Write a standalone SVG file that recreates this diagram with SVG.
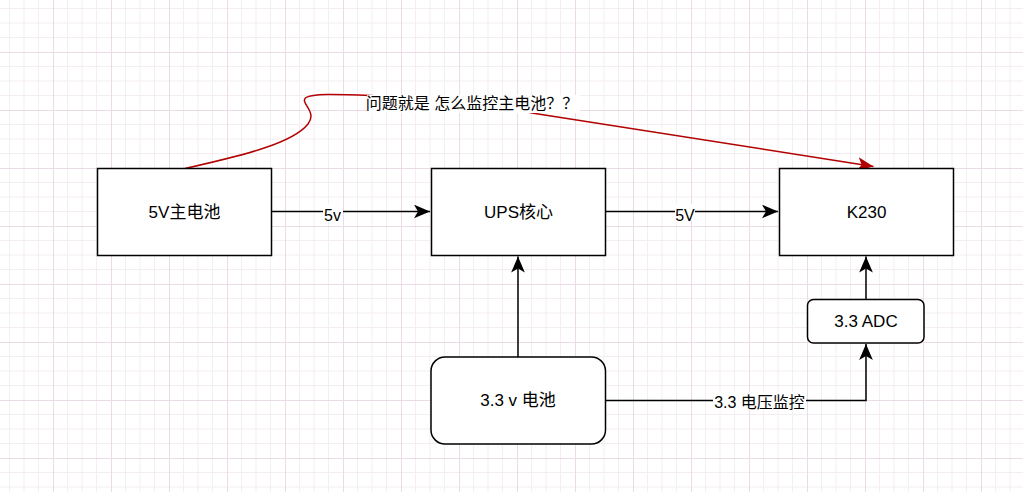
<svg xmlns="http://www.w3.org/2000/svg" width="1023" height="492" viewBox="0 0 1023 492">
  <style>
    .box { fill: #ffffff; stroke: #000000; stroke-width: 1.5; }
    .edge { fill: none; stroke: #000000; stroke-width: 1.5; }
    .red { fill: none; stroke: #b20000; stroke-width: 1.5; }
    .t { font-family: "Liberation Sans", "Noto Sans CJK SC", sans-serif; fill: #000000; text-anchor: middle; }
    .node { font-size: 17px; }
    .lbl { font-size: 16px; }
    .bg { fill: #ffffff; }
  </style>
  <defs>
    <pattern id="grid" patternUnits="userSpaceOnUse" x="53" y="52" width="58" height="58">
      <path d="M14.5,0 V58 M29,0 V58 M43.5,0 V58 M0,14.5 H58 M0,29 H58 M0,43.5 H58" stroke="#f4edf2" stroke-width="1" fill="none"/>
      <path d="M0.5,0 V58 M0,0.5 H58" stroke="#ecdbe6" stroke-width="1" fill="none"/>
    </pattern>
    <marker id="arr" markerUnits="userSpaceOnUse" markerWidth="16" markerHeight="14" viewBox="0 0 14 12" refX="14" refY="6" orient="auto">
      <path d="M0,0 L14,6 L0,12 L3.5,6 Z" fill="#000000"/>
    </marker>
    <marker id="arrRed" markerUnits="userSpaceOnUse" markerWidth="16" markerHeight="14" viewBox="0 0 14 12" refX="14" refY="6" orient="auto">
      <path d="M0,0 L14,6 L0,12 L3.5,6 Z" fill="#b20000"/>
    </marker>
  </defs>
  <rect x="0" y="0" width="1023" height="492" fill="#ffffff"/>
  <rect x="0" y="0" width="1023" height="492" fill="url(#grid)"/>

  <g id="connectors">
    <path class="edge" d="M271.5,211.5 H430" marker-end="url(#arr)"/>
    <rect class="bg" x="323" y="204" width="20" height="17"/>
    <text class="t lbl" x="332.5" y="221">5v</text>

    <path class="edge" d="M605.5,211.5 H778" marker-end="url(#arr)"/>
    <rect class="bg" x="675" y="204" width="20" height="17"/>
    <text class="t lbl" x="685" y="221">5V</text>

    <path class="edge" d="M518,357 V256.5" marker-end="url(#arr)"/>

    <path class="edge" d="M605.5,400.5 H866 V344" marker-end="url(#arr)"/>
    <rect class="bg" x="713" y="392" width="93" height="18"/>
    <text class="t lbl" x="759.5" y="407.5">3.3 电压监控</text>

    <path class="edge" d="M866,299 V256.5" marker-end="url(#arr)"/>

    <path class="red" d="M185,168.5 C245,155 293,143 308,124 C318,111 299,103 306,97.5 C312,93.5 335,94 370,95.5 Q460,99 535,113.5 L873.5,166.5" marker-end="url(#arrRed)"/>
    <rect class="bg" x="367" y="95" width="213" height="18"/>
    <text class="t lbl" x="472" y="109">问题就是 怎么监控主电池？？</text>
  </g>

  <g id="node-5v-battery">
    <rect class="box" x="97.5" y="168.5" width="174" height="87"/>
    <text class="t node" x="184.5" y="217.7">5V主电池</text>
  </g>
  <g id="node-ups">
    <rect class="box" x="431.5" y="168.5" width="174" height="87"/>
    <text class="t node" x="518.5" y="217.7">UPS核心</text>
  </g>
  <g id="node-k230">
    <rect class="box" x="779.5" y="168.5" width="174" height="87"/>
    <text class="t node" x="866.5" y="217.7">K230</text>
  </g>
  <g id="node-33v-battery">
    <rect class="box" x="431" y="357" width="174.5" height="87" rx="14" ry="14"/>
    <text class="t node" x="518" y="406">3.3 v 电池</text>
  </g>
  <g id="node-adc">
    <rect class="box" x="807.5" y="299.5" width="116.5" height="43.5" rx="6" ry="6"/>
    <text class="t node" x="866" y="326.5">3.3 ADC</text>
  </g>
</svg>
